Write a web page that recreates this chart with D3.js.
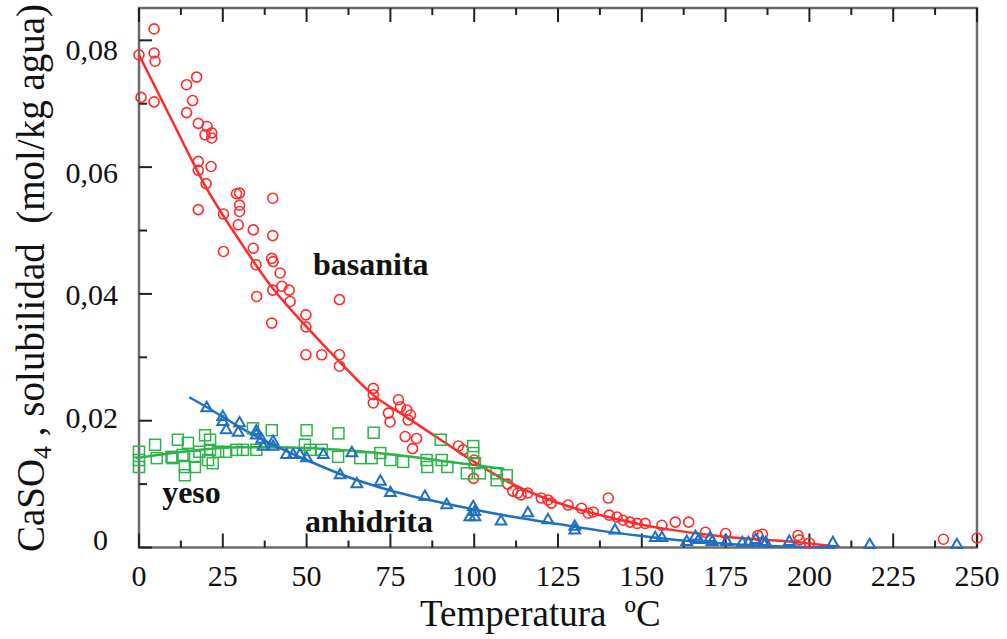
<!DOCTYPE html>
<html>
<head>
<meta charset="utf-8">
<script src="https://cdn.jsdelivr.net/npm/d3@7"></script>
<style>
  body { margin: 0; background: #fff; }
  text { font-family: "Liberation Serif", "Times New Roman", serif; fill: #111; }
</style>
</head>
<body>
<div id="chart"></div>
<script>
// data: [temperature ºC, solubility mol/kg]
const basanita = [
  [0,0.0777],[0.6,0.0710],[4.5,0.0818],[4.5,0.0780],[4.8,0.0767],[4.5,0.0703],
  [14.2,0.0730],[17.2,0.0742],[16,0.0705],[14.2,0.0686],[17.7,0.0669],[20.3,0.0664],
  [19.7,0.0651],[21.7,0.0654],[21.7,0.0646],[17.7,0.0609],[17.7,0.0595],[21.5,0.0601],
  [20,0.0574],[17.7,0.0533],[29.1,0.0558],[30,0.0559],[30,0.0540],[30,0.0530],
  [25.2,0.0526],[29.6,0.0509],[39.9,0.0551],[25.2,0.0467],[34.1,0.0501],[34.1,0.0472],
  [34.9,0.0446],[39.9,0.0492],[39.6,0.0456],[40,0.0451],[42.1,0.0433],[42.6,0.0412],
  [39.9,0.0406],[44.8,0.0406],[45.1,0.0388],[35.1,0.0396],[39.6,0.0354],[49.8,0.0367],
  [49.8,0.0348],[59.8,0.0391],[49.8,0.0304],[54.5,0.0304],[59.8,0.0304],[59.8,0.0286],
  [69.9,0.0251],[69.9,0.0241],[69.9,0.0228],[77.4,0.0233],[78,0.0222],[79.9,0.0217],
  [81,0.0209],[80.3,0.0201],[74.4,0.0212],[74.9,0.0198],[79.4,0.0175],[82.8,0.0172],
  [81.6,0.0156],[95.3,0.0160],[96.7,0.0154],[99.8,0.0109],[100,0.0138],
  [110,0.0100],[111.5,0.0089],[113,0.0086],[114,0.0083],[116,0.0086],[120,0.0078],
  [122,0.0075],[123,0.0070],[128,0.0067],[132,0.0062],[134,0.0054],[135.5,0.0056],
  [140,0.0078],[140.3,0.0051],[142.6,0.0048],[144.4,0.0043],[146.5,0.0040],[148.6,0.0038],
  [151,0.0038],[156,0.0035],[160,0.0040],[164,0.0040],[169,0.0024],[175,0.0022],
  [184.6,0.0019],[186,0.0021],[196.6,0.0019],[197,0.0012],[200,0.0007],[240,0.0013],[250,0.0015]
];
const basanitaFit = [
  [0,0.0777],[10,0.0672],[20,0.0568],[30,0.0484],[40,0.0408],[50,0.0348],[60,0.0292],
  [70,0.0240],[80,0.0205],[90,0.0170],[100,0.0135],[110,0.0104],[120,0.0080],[130,0.0062],
  [140,0.0048],[150,0.0036],[160,0.0027],[175,0.0017],[195,0.0009],[209,0.0001]
];
const yeso = [
  [0,0.0151],[0,0.0138],[0,0.0127],[4.8,0.0162],[5.3,0.0141],[9.7,0.0143],[10,0.0141],
  [11.6,0.0170],[14.6,0.0165],[13,0.0146],[13.7,0.0127],[13.7,0.0114],[16.7,0.0143],
  [16.7,0.0127],[19.7,0.0177],[21.2,0.0170],[21.2,0.0154],[20.6,0.0138],[22,0.0133],
  [18,0.0151],[23.6,0.0151],[26,0.0151],[29,0.0154],[31,0.0154],[34,0.0188],[35,0.0154],
  [39.6,0.0185],[50,0.0185],[49.5,0.0162],[51,0.0154],[54.5,0.0154],[59.5,0.0180],
  [59.4,0.0143],[70,0.0181],[66,0.0141],[69.4,0.0141],[72,0.0149],[75,0.0138],
  [78.8,0.0135],[85.8,0.0138],[86,0.0127],[90,0.0170],[90.3,0.0138],[92,0.0127],
  [97.8,0.0117],[99.7,0.0160],[99.7,0.0149],[100.2,0.0133],[101.7,0.0117],
  [106.7,0.0117],[106.7,0.0106],[109.7,0.0114]
];
const yesoFit = [
  [-1,0.0141],[10,0.0149],[20,0.0155],[30,0.0158],[40,0.0158],[50,0.0157],[60,0.0154],
  [70,0.0150],[80,0.0144],[90,0.0137],[100,0.0130],[109,0.0124]
];
const anhidrita = [
  [20.2,0.0220],[25,0.0206],[25,0.0198],[26,0.0185],[30,0.0196],[29.6,0.0181],[35,0.0183],
  [35,0.0177],[36.6,0.0170],[37,0.0159],[40,0.0167],[40,0.0159],[44,0.0146],[46,0.0146],
  [48,0.0146],[50,0.0141],[55,0.0146],[60,0.0114],[63.5,0.0149],[65,0.0100],[72,0.0104],
  [75,0.0086],[85.3,0.0080],[91.8,0.0067],[99.7,0.0064],[98.7,0.0048],[100.2,0.0048],
  [100.2,0.0056],[108,0.0041],[116,0.0054],[122,0.0043],[130,0.0033],[130,0.0027],
  [142,0.0027],[154,0.0015],[156,0.0015],[163.4,0.0009],[166,0.0017],[167,0.0012],
  [170.4,0.0015],[171,0.0009],[175.3,0.0009],[180,0.0007],[181.8,0.0007],[184,0.0012],
  [186,0.0009],[187,0.0007],[194,0.0009],[207,0.0007],[218,0.0004],[244,0.0004]
];
const anhidritaFit = [
  [15,0.0237],[20,0.0222],[30,0.0190],[40,0.0162],[50,0.0138],[60,0.0116],[75,0.0090],
  [90,0.0071],[100,0.0060],[112,0.0048],[125,0.0037],[137,0.0027],[150,0.0018],
  [162,0.0011],[175,0.0006],[190,0.0002],[208,0.0]
];
const xMajor = [0,25,50,75,100,125,150,175,200,225,250];
const xMinor = [12.5,37.5,62.5,87.5,112.5,137.5,162.5,187.5,212.5,237.5];
const yMajor = [0,0.02,0.04,0.06,0.08];
const yMinor = [0.01,0.03,0.05,0.07];

const width = 1007, height = 639;
const red = "#ff2b2b", blue = "#1f6fc2", green = "#2db34a";

const svg = d3.select("#chart").append("svg")
    .attr("width", width)
    .attr("height", height);

const x = d3.scaleLinear().domain([0, 250]).range([139, 977]);
const y = d3.scaleLinear().domain([0, 0.0851]).range([547.5, 8]);
// tick labels in the original sit slightly off their ticks
const yLab = d3.scaleLinear().domain([0, 0.08]).range([540, 50]);

const fmt = d3.formatLocale({decimal: ",", thousands: ".", grouping: [3], currency: ["", ""]}).format(".2f");

// frame
svg.append("rect")
    .attr("x", x(0)).attr("y", y(0.0851))
    .attr("width", x(250) - x(0)).attr("height", y(0) - y(0.0851))
    .attr("fill", "none").attr("stroke", "#6b6b6b").attr("stroke-width", 2.5);

// ticks (inside)
const tk = svg.append("g").attr("stroke", "#222").attr("stroke-width", 2);
tk.selectAll(".xb").data(xMajor.concat(xMinor)).enter().append("line")
    .attr("x1", d => x(d)).attr("x2", d => x(d))
    .attr("y1", y(0)).attr("y2", d => y(0) - (xMajor.includes(d) ? 14 : 7));
tk.selectAll(".xt").data(xMajor.concat(xMinor)).enter().append("line")
    .attr("x1", d => x(d)).attr("x2", d => x(d))
    .attr("y1", y(0.0851)).attr("y2", d => y(0.0851) + (xMajor.includes(d) ? 14 : 7));
tk.selectAll(".yl").data(yMajor.concat(yMinor)).enter().append("line")
    .attr("y1", d => y(d)).attr("y2", d => y(d))
    .attr("x1", x(0)).attr("x2", d => x(0) + (yMajor.includes(d) ? 13 : 8));

// tick labels
svg.selectAll(".xlab").data(xMajor).enter().append("text")
    .attr("x", d => x(d)).attr("y", 586)
    .attr("text-anchor", "middle").style("font-size", "30px")
    .text(d => d);
svg.selectAll(".ylab").data(yMajor).enter().append("text")
    .attr("x", d => d === 0 ? 108 : 118).attr("y", d => yLab(d) + 10)
    .attr("text-anchor", "end").style("font-size", "30px")
    .text(d => d === 0 ? "0" : fmt(d));

// axis titles
const xt = svg.append("text").attr("x", 420).attr("y", 626).style("font-size", "37px");
xt.append("tspan").text("Temperatura");
xt.append("tspan").attr("dx", 18).text("ºC");

const yt = svg.append("text")
    .attr("transform", "translate(44,278) rotate(-90)")
    .attr("text-anchor", "middle").style("font-size", "39px")
    .style("white-space", "pre");
yt.append("tspan").text("CaSO");
yt.append("tspan").attr("dy", 7).style("font-size", "26px").text("4");
yt.append("tspan").attr("dy", -7).text(" , solubilidad  (mol/kg agua)");

// fitted curves
const line = d3.line().x(d => x(d[0])).y(d => y(d[1])).curve(d3.curveMonotoneX);
[[basanitaFit, red], [yesoFit, green], [anhidritaFit, blue]].forEach(([data, col]) => {
  svg.append("path").datum(data)
      .attr("d", line)
      .attr("fill", "none").attr("stroke", col).attr("stroke-width", 2.5);
});

// markers
svg.append("g").selectAll("circle").data(basanita).enter().append("circle")
    .attr("cx", d => x(d[0])).attr("cy", d => y(d[1])).attr("r", 5)
    .attr("fill", "none").attr("stroke", red).attr("stroke-width", 1.6);

svg.append("g").selectAll("rect").data(yeso).enter().append("rect")
    .attr("x", d => x(d[0]) - 5.5).attr("y", d => y(d[1]) - 5.5)
    .attr("width", 11).attr("height", 11)
    .attr("fill", "none").attr("stroke", green).attr("stroke-width", 1.5);

const tri = d3.symbol().type(d3.symbolTriangle).size(50);
svg.append("g").selectAll("path").data(anhidrita).enter().append("path")
    .attr("d", tri)
    .attr("transform", d => `translate(${x(d[0])},${y(d[1])})`)
    .attr("fill", "none").attr("stroke", blue).attr("stroke-width", 2);

// series labels
const lab = svg.append("g").style("font-size", "32px").style("font-weight", "bold");
lab.append("text").attr("x", x(51.9)).attr("y", y(0.0430)).text("basanita");
lab.append("text").attr("x", x(6.9)).attr("y", y(0.0070)).text("yeso");
lab.append("text").attr("x", x(49.5)).attr("y", y(0.0024)).text("anhidrita");
</script>
</body>
</html>
